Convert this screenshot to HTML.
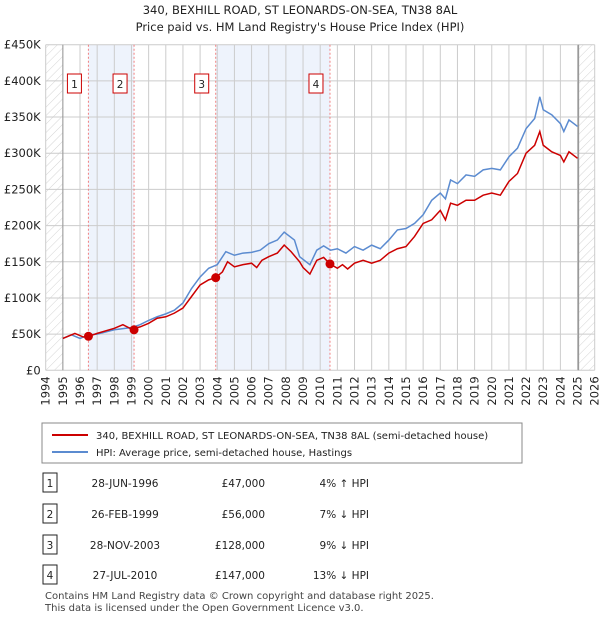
<!DOCTYPE html>
<html><head><meta charset="utf-8"><style>
body{margin:0;background:#fff;font-family:"DejaVu Sans","Liberation Sans",sans-serif;}
svg{display:block}
</style></head><body>
<svg id="c" width="600" height="620" xmlns="http://www.w3.org/2000/svg" font-family="DejaVu Sans, Liberation Sans, sans-serif">
<defs><pattern id="h" width="6" height="6" patternUnits="userSpaceOnUse" patternTransform="rotate(45)"><line x1="0" y1="0" x2="0" y2="6" stroke="#d4d4d4" stroke-width="1"/></pattern></defs>
<text x="300" y="14" text-anchor="middle" font-size="11.5" fill="#222">340, BEXHILL ROAD, ST LEONARDS-ON-SEA, TN38 8AL</text>
<text x="300" y="31" text-anchor="middle" font-size="11.5" fill="#222">Price paid vs. HM Land Registry's House Price Index (HPI)</text>
<g id="plot"></g>
<g id="legend">
<rect x="42" y="423" width="480" height="40" fill="#fff" stroke="#888"/>
<line x1="52" y1="435" x2="88" y2="435" stroke="#cc0000" stroke-width="2"/>
<text x="96" y="439" font-size="10" fill="#222">340, BEXHILL ROAD, ST LEONARDS-ON-SEA, TN38 8AL (semi-detached house)</text>
<line x1="52" y1="452" x2="88" y2="452" stroke="#5b8bd0" stroke-width="2"/>
<text x="96" y="456" font-size="10" fill="#222">HPI: Average price, semi-detached house, Hastings</text>
</g>
<g id="table" font-size="10.5" fill="#222"></g>
<text x="45" y="599" font-size="10" fill="#444">Contains HM Land Registry data © Crown copyright and database right 2025.</text>
<text x="45" y="611" font-size="10" fill="#444">This data is licensed under the Open Government Licence v3.0.</text>
</svg>
<script>
const hpiYears=[1995,1995.5,1996,1996.5,1997,1998,1999,1999.5,2000,2000.5,2001,2001.5,2002,2002.5,2003,2003.5,2004,2004.5,2005,2005.5,2006,2006.5,2007,2007.5,2007.9,2008.5,2008.8,2009.4,2009.8,2010.2,2010.6,2011,2011.5,2012,2012.5,2013,2013.5,2014,2014.5,2015,2015.5,2016,2016.5,2017,2017.3,2017.6,2018,2018.5,2019,2019.5,2020,2020.5,2021,2021.5,2022,2022.5,2022.8,2023,2023.5,2024,2024.2,2024.5,2025];
const hpiValues=[44,49,44,49,50,56,59,63,69,74,78,83,93,113,129,141,146,164,159,162,163,166,175,180,191,180,157,146,166,172,166,168,162,171,166,173,168,180,194,196,203,215,235,245,237,263,258,270,268,277,279,277,295,307,334,348,378,360,353,341,330,346,337];
const priceYears=[1995,1995.7,1996.2,1996.5,1997,1998,1998.5,1999,1999.5,2000,2000.5,2001,2001.5,2002,2002.5,2003,2003.5,2003.9,2004.3,2004.6,2005,2005.5,2006,2006.3,2006.6,2007,2007.5,2007.9,2008.3,2008.8,2009.0,2009.4,2009.8,2010.2,2010.57,2011,2011.3,2011.6,2012,2012.5,2013,2013.5,2014,2014.5,2015,2015.5,2016,2016.5,2017,2017.3,2017.6,2018,2018.5,2019,2019.5,2020,2020.5,2021,2021.5,2022,2022.5,2022.8,2023,2023.5,2024,2024.2,2024.5,2025];
const priceValues=[44,51,46,47,51,58,63,57,60,65,72,74,79,86,102,118,125,128,136,150,143,146,148,142,152,157,162,173,164,150,142,133,152,156,147,141,146,140,148,152,148,152,162,168,171,185,203,208,221,208,231,228,235,235,242,245,242,261,272,300,311,330,311,302,297,288,302,293];
const saleYears=[1996.49,1999.15,2003.91,2010.57];
const saleValues=[47,56,128,147];
const saleDates=["28-JUN-1996","26-FEB-1999","28-NOV-2003","27-JUL-2010"];
const salePrices=["£47,000","£56,000","£128,000","£147,000"];
const saleHpi=["4% ↑ HPI","7% ↓ HPI","9% ↓ HPI","13% ↓ HPI"];
const yTicks=[0,50,100,150,200,250,300,350,400,450];
const xTicks=[1994,1995,1996,1997,1998,1999,2000,2001,2002,2003,2004,2005,2006,2007,2008,2009,2010,2011,2012,2013,2014,2015,2016,2017,2018,2019,2020,2021,2022,2023,2024,2025,2026];

const NS="http://www.w3.org/2000/svg";
const L=45.7,R=594.7,T=44.7,B=370.3,X0=1994,X1=2026,YMAX=450;
const xs=v=>L+(v-X0)/(X1-X0)*(R-L);
const ys=v=>B-v/YMAX*(B-T);
const plot=document.getElementById('plot');
function mk(tag,attrs,parent){const e=document.createElementNS(NS,tag);for(const k in attrs)e.setAttribute(k,attrs[k]);(parent||plot).appendChild(e);return e;}

for(let i=0;i<saleYears.length;i+=2){
  const r=mk('rect',{x:xs(saleYears[i]),y:T,width:xs(saleYears[i+1])-xs(saleYears[i]),height:B-T,fill:'#eef3fc'});
  
  
}
const h1=mk('rect',{x:L,y:T,width:xs(1995)-L,height:B-T,fill:'url(#h)'});


const h2=mk('rect',{x:xs(2025.05),y:T,width:R-xs(2025.05),height:B-T,fill:'url(#h)'});


yTicks.forEach(t=>{
  const g=mk('line',{x1:L,x2:R,y1:ys(t),y2:ys(t),stroke:'#ccc','stroke-width':1});
  
  
  const tx=mk('text',{x:L-5,y:ys(t)+4,'text-anchor':'end','font-size':11.5,fill:'#222'});
  tx.textContent=t===0?'£0':'£'+t+'K';
  
  
});
xTicks.forEach(t=>{
  const g=mk('line',{x1:xs(t),x2:xs(t),y1:T,y2:B,stroke:'#ccc','stroke-width':1});
  
  
  const tx=mk('text',{x:0,y:0,'text-anchor':'end','font-size':11.5,fill:'#222',transform:`translate(${xs(t)+4},${B+6}) rotate(-90)`});
  tx.textContent=t;
  
  
});
const bl=mk('line',{x1:xs(1995),x2:xs(1995),y1:T,y2:B,stroke:'#999','stroke-width':1});


const br=mk('line',{x1:xs(2025.05),x2:xs(2025.05),y1:T,y2:B,stroke:'#999','stroke-width':1.5});


saleYears.forEach((y,i)=>{
  const l=mk('line',{x1:xs(y),x2:xs(y),y1:T,y2:B,stroke:'#f08080','stroke-width':1,'stroke-dasharray':'2,2'});
  
  
  const b=mk('rect',{x:xs(y)-21,y:74,width:14,height:19,fill:'#fff',stroke:'#cc0000'});
  
  
  const t=mk('text',{x:xs(y)-14,y:88,'text-anchor':'middle','font-size':10.5,fill:'#222'});
  t.textContent=i+1;
  
  
});
const hp=mk('polyline',{points:hpiYears.map((y,i)=>xs(y)+','+ys(hpiValues[i])).join(' '),fill:'none',stroke:'#5b8bd0','stroke-width':1.5});


const pp=mk('polyline',{points:priceYears.map((y,i)=>xs(y)+','+ys(priceValues[i])).join(' '),fill:'none',stroke:'#cc0000','stroke-width':1.5});


saleYears.forEach((y,i)=>{
  const c=mk('circle',{cx:xs(y),cy:ys(saleValues[i]),r:4.5,fill:'#cc0000'});
  
  
});
const tb=document.getElementById('table');
const rowY=[483,514,545,575];
saleDates.forEach((d,i)=>{
  const y=rowY[i];
  const b=mk('rect',{x:43,y:y-10,width:14,height:19,fill:'#fff',stroke:'#222'},tb);
  
  
  const n=mk('text',{x:50,y:y+4,'text-anchor':'middle'},tb);n.textContent=i+1;
  
  
  const a=mk('text',{x:125,y:y+4,'text-anchor':'middle'},tb);a.textContent=d;
  
  
  const p=mk('text',{x:265,y:y+4,'text-anchor':'end'},tb);p.textContent=salePrices[i];
  
  
  const q=mk('text',{x:369,y:y+4,'text-anchor':'end'},tb);q.textContent=saleHpi[i];
  
  
});
</script>
</body></html>
